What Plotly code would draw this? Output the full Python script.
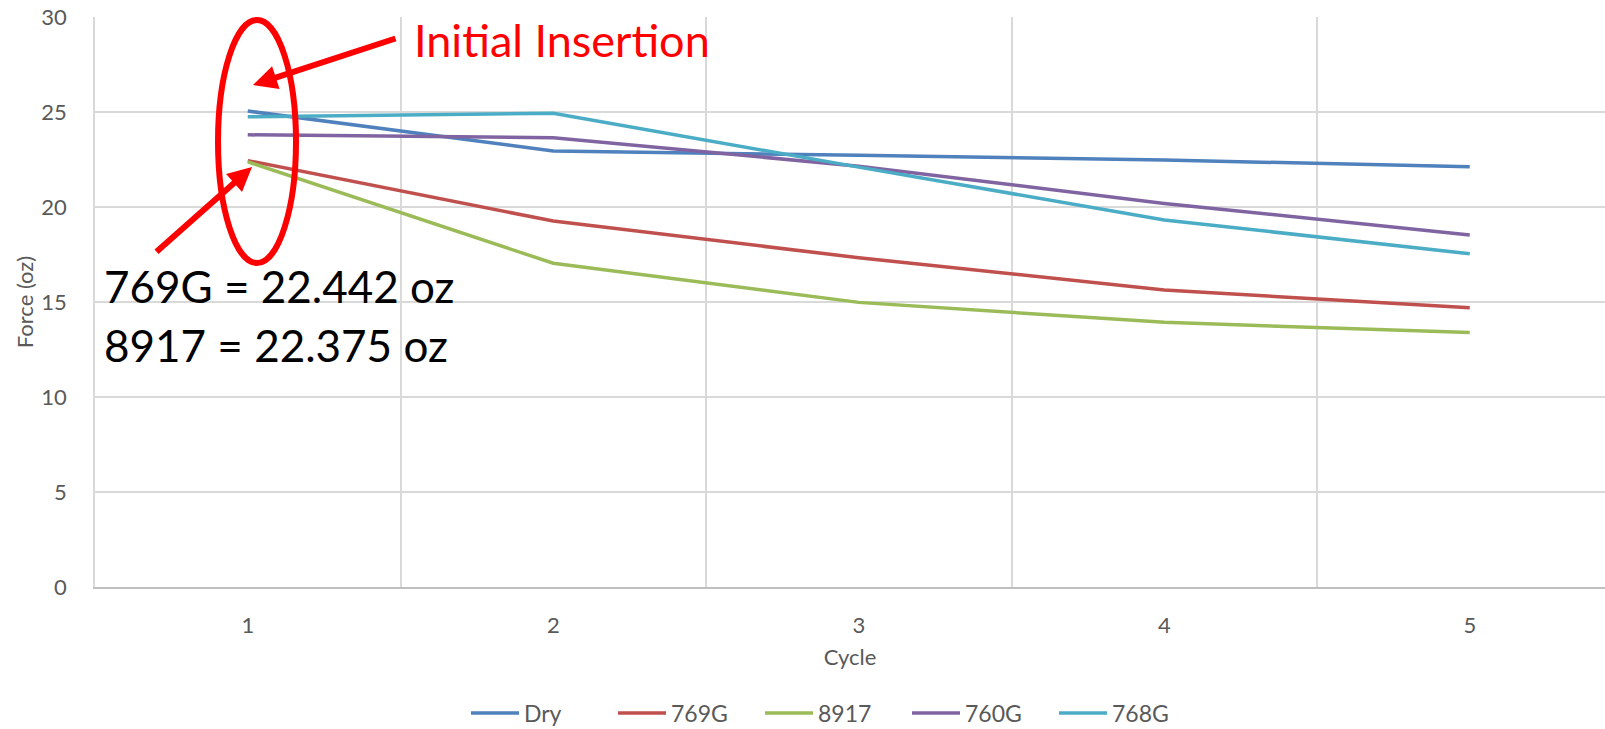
import plotly.graph_objects as go

cycles = [1, 2, 3, 4, 5]
series_names = ["Dry", "769G", "8917", "760G", "768G"]
dry = [25.05, 22.95, 22.72, 22.47, 22.12]
g769 = [22.442, 19.26, 17.33, 15.63, 14.70]
s8917 = [22.375, 17.04, 14.98, 13.93, 13.39]
g760 = [23.80, 23.65, 22.15, 20.19, 18.53]
g768 = [24.75, 24.93, 22.10, 19.32, 17.54]
colors = ["#4F81BD", "#C0504D", "#9BBB59", "#8064A2", "#4BACC6"]
values = [dry, g769, s8917, g760, g768]

W, H = 1605, 729
L, R, T, B = 95, 1605, 17, 587

def px(x):
    return (x - L) / (R - L)

def py(y):
    return (B - y) / (B - T)

fig = go.Figure()
for name, vals, c in zip(series_names, values, colors):
    fig.add_trace(go.Scatter(x=cycles, y=vals, name=name, mode="lines",
                             line=dict(color=c, width=3.5)))

tickfont = dict(family="Lato", size=22, color="#595959")

fig.update_layout(
    width=W, height=H,
    margin=dict(l=L, r=W - R, t=T, b=H - B, autoexpand=False),
    plot_bgcolor="white", paper_bgcolor="white",
    showlegend=True,
    legend=dict(orientation="h", x=px(466), xanchor="left", y=py(713), yanchor="middle",
                font=dict(family="Lato", size=23, color="#595959"),
                entrywidth=84, entrywidthmode="pixels", itemwidth=48),
    xaxis=dict(range=[0.5, 0.5 + (R - L) / 305.5], tickvals=cycles, ticktext=[str(c) for c in cycles],
               showgrid=False, zeroline=False, showline=True, linecolor="#bfbfbf", linewidth=1.5,
               tickfont=tickfont, ticks="", ticklabelstandoff=18, automargin=False,
               minor=dict(tick0=0.5, dtick=1, showgrid=True, gridcolor="#d9d9d9", gridwidth=1.5),
               title=dict(text="Cycle", font=dict(family="Lato", size=22, color="#595959"), standoff=12)),
    yaxis=dict(range=[0, 30], dtick=5, showgrid=True, gridcolor="#d9d9d9", gridwidth=1.5,
               zeroline=False, showline=True, linecolor="#d9d9d9", linewidth=1.5,
               tickfont=tickfont, ticks="", ticklabelstandoff=22, automargin=False,
               title=dict(text="Force (oz)", font=dict(family="Lato", size=22, color="#595959"), standoff=2)),
)

# Annotations
fig.add_shape(type="circle", xref="paper", yref="paper",
              x0=px(218), x1=px(296), y0=py(263), y1=py(20),
              line=dict(color="#FF0000", width=6))

fig.add_annotation(xref="paper", yref="paper", x=px(253), y=py(85), ax=144, ay=-47,
                   text="", showarrow=True, arrowhead=2, arrowsize=0.8, arrowwidth=6,
                   arrowcolor="#FF0000", standoff=0)
fig.add_annotation(xref="paper", yref="paper", x=px(252), y=py(167), ax=-97, ay=86,
                   text="", showarrow=True, arrowhead=2, arrowsize=0.8, arrowwidth=6,
                   arrowcolor="#FF0000", standoff=0)

fig.add_annotation(xref="paper", yref="paper", x=px(412), y=py(40), xanchor="left", yanchor="middle",
                   text="Initial Insertion", showarrow=False,
                   font=dict(family="Lato", size=45, color="#FF0000"))
fig.add_annotation(xref="paper", yref="paper", x=px(102), y=py(286), xanchor="left", yanchor="middle",
                   text="769G = 22.442 oz", showarrow=False,
                   font=dict(family="Lato", size=44, color="#000000"))
fig.add_annotation(xref="paper", yref="paper", x=px(102), y=py(345), xanchor="left", yanchor="middle",
                   text="8917 = 22.375 oz", showarrow=False,
                   font=dict(family="Lato", size=44, color="#000000"))

fig.write_html("out.html", config={"displayModeBar": False},
               post_script="document.body.style.margin='0';document.body.style.overflow='hidden';")
